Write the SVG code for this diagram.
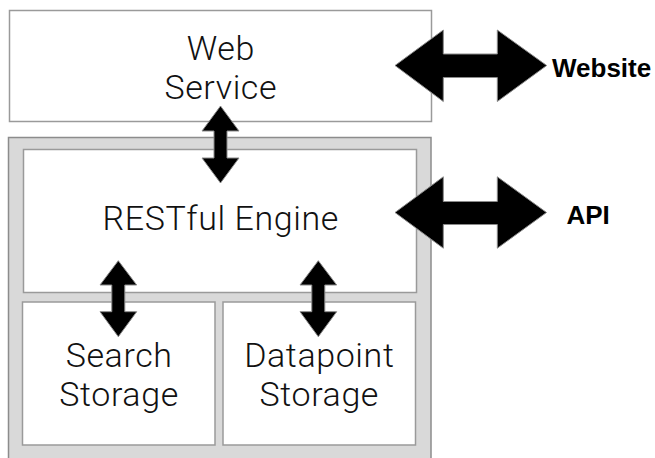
<svg xmlns="http://www.w3.org/2000/svg" width="655" height="458" viewBox="0 0 655 458">
<style>
.box{fill:#ffffff;stroke:#9a9a9a;stroke-width:1.5}
.outer{fill:#d9d9d9;stroke:#8c8c8c;stroke-width:1.5}
.lbl{font-family:Roboto,"Liberation Sans",sans-serif;font-weight:300;font-size:34px;letter-spacing:0.6px;fill:#111;text-anchor:middle}
.ext{font-family:"Liberation Sans",Arial,sans-serif;font-weight:bold;font-size:26px;fill:#000}
.arrow{fill:#000;stroke:#8a8a8a;stroke-width:1}
</style>
<rect width="655" height="458" fill="#ffffff"/>
<g id="web-service">
<rect class="box" x="9.5" y="10.5" width="422" height="111"/>
<text class="lbl" x="220.8" y="60">Web</text>
<text class="lbl" x="220.8" y="99">Service</text>
</g>
<g id="backend">
<rect class="outer" x="8.5" y="137.5" width="422.5" height="330"/>
</g>
<g id="restful-engine">
<rect class="box" x="23.5" y="149.5" width="393" height="143"/>
<text class="lbl" x="220.8" y="230">RESTful Engine</text>
</g>
<g id="search-storage">
<rect class="box" x="22.5" y="302" width="192.5" height="143"/>
<text class="lbl" x="119.1" y="367">Search</text>
<text class="lbl" x="119.1" y="406">Storage</text>
</g>
<g id="datapoint-storage">
<rect class="box" x="223" y="302" width="192.5" height="143"/>
<text class="lbl" x="319.3" y="367">Datapoint</text>
<text class="lbl" x="319.3" y="406">Storage</text>
</g>
<g id="connectors">
<path class="arrow" d="M220.5,106 L239,131 L227,131 L227,158 L239,158 L220.5,183 L202,158 L214,158 L214,131 L202,131 Z"/>
<path class="arrow" d="M118.3,260.7 L136.7,285 L124.8,285 L124.8,311.7 L136.7,311.7 L118.3,336.7 L100,311.7 L111.8,311.7 L111.8,285 L100,285 Z"/>
<path class="arrow" d="M318.3,260.7 L336.7,285 L324.8,285 L324.8,311.7 L336.7,311.7 L318.3,336.7 L300,311.7 L311.8,311.7 L311.8,285 L300,285 Z"/>
<path class="arrow" d="M395,65.5 L443.3,30 L443.3,54 L497.3,54 L497.3,30 L546.7,65.5 L497.3,101.5 L497.3,77.5 L443.3,77.5 L443.3,101.5 Z"/>
<path class="arrow" d="M395,212.5 L443.3,176.8 L443.3,201.5 L497.3,201.5 L497.3,176.8 L546.5,212.5 L497.3,248.2 L497.3,224.5 L443.3,224.5 L443.3,248.2 Z"/>
</g>
<g id="labels">
<text class="ext" x="552" y="76.5">Website</text>
<text class="ext" x="566.5" y="224">API</text>
</g>
</svg>
